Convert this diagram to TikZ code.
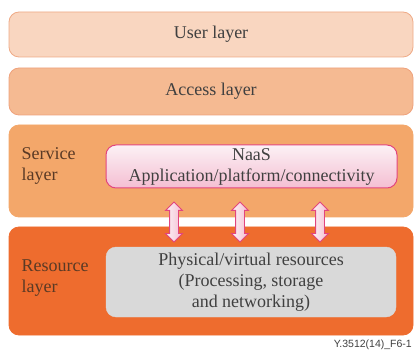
\documentclass[tikz,border=0pt]{standalone}
\usepackage{fontspec}
\setmainfont{Liberation Serif}
\newfontfamily\capfont{Liberation Sans}
\usetikzlibrary{shapes.arrows}
\definecolor{userfill}{HTML}{F9D6C0}
\definecolor{userline}{HTML}{EFAA86}
\definecolor{accfill}{HTML}{F5BA92}
\definecolor{accline}{HTML}{EFA27C}
\definecolor{servfill}{HTML}{F3A76A}
\definecolor{servline}{HTML}{F3A76A}
\definecolor{resfill}{HTML}{EE6C2E}
\definecolor{grayfill}{HTML}{D9D9D9}
\definecolor{pinkline}{HTML}{E2457E}
\definecolor{pinklight}{HTML}{FCF1F5}
\definecolor{pinkdark}{HTML}{F4BED2}
\definecolor{txt}{HTML}{404040}
\definecolor{labtxt}{HTML}{5A3A25}
\tikzset{
  layerbox/.style={rounded corners=10pt, line width=0.8pt},
  layertxt/.style={font=\fontsize{18}{20}\selectfont, text=txt},
  sidetxt/.style={font=\fontsize{18}{21}\selectfont, text=labtxt, align=left, anchor=west},
  innertxt/.style={font=\fontsize{18}{21}\selectfont, text=txt, align=center},
  dblarrow/.style={double arrow, draw=pinkline, line width=0.9pt,
    left color=pinklight, right color=pinkdark,
    minimum width=16pt, minimum height=40pt, inner xsep=0pt, inner ysep=4pt,
    double arrow head extend=4pt, rotate=90}
}
\begin{document}
\begin{tikzpicture}[x=1pt,y=-1pt]
\useasboundingbox (0,0) rectangle (414,352);
% layers
\draw[layerbox, fill=userfill, draw=userline] (9,12) rectangle (413,57);
\node[layertxt] (user) at (211,34.5) {User layer};
\draw[layerbox, fill=accfill, draw=accline] (9,68) rectangle (413,115);
\node[layertxt] (access) at (211,91.5) {Access layer};
\draw[layerbox, fill=servfill, draw=servline] (9,125) rectangle (413,217);
\node[sidetxt] (servlab) at (18,166) {Service\\layer};
\draw[layerbox, fill=resfill, draw=resfill] (9,227) rectangle (413,335);
\node[sidetxt] (reslab) at (18,278) {Resource\\layer};
% inner boxes
\draw[rounded corners=10pt, draw=pinkline, line width=1pt, top color=pinklight, bottom color=pinkdark]
  (106,145) rectangle (397,188);
\node[innertxt] (naas) at (251.5,166.5) {NaaS\\Application/platform/connectivity};
\draw[rounded corners=10pt, fill=grayfill, draw=grayfill] (106,247) rectangle (396,317);
\node[innertxt] (phys) at (251,282) {Physical/virtual resources\\(Processing, storage\\and networking)};
% arrows
\node[dblarrow] (a1) at (174,222) {};
\node[dblarrow] (a2) at (240,222) {};
\node[dblarrow] (a3) at (320,222) {};
% caption
\node[font=\capfont\fontsize{10.5}{12}\selectfont, text=txt, anchor=south east, inner sep=0pt] (cap) at (412,350) {Y.3512(14)\_F6-1};
\end{tikzpicture}
\end{document}
